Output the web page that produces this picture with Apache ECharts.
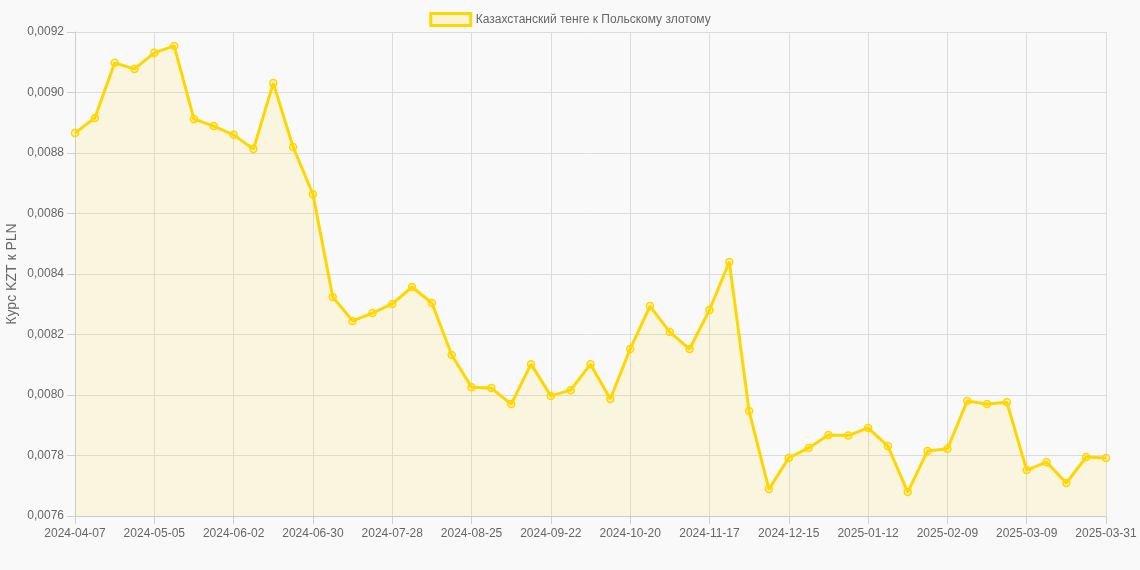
<!DOCTYPE html>
<html>
<head>
<meta charset="utf-8">
<script src="https://cdn.jsdelivr.net/npm/echarts@6/dist/echarts.min.js"></script>
<style>
html,body{margin:0;padding:0;background:#f9f9f9;}
#c{width:1140px;height:570px;}
</style>
</head>
<body>
<div id="c"></div>
<script>
const categories = [
"2024-04-07","2024-04-14","2024-04-21","2024-04-28","2024-05-05","2024-05-12","2024-05-19","2024-05-26",
"2024-06-02","2024-06-09","2024-06-16","2024-06-23","2024-06-30","2024-07-07","2024-07-14","2024-07-21",
"2024-07-28","2024-08-04","2024-08-11","2024-08-18","2024-08-25","2024-09-01","2024-09-08","2024-09-15",
"2024-09-22","2024-09-29","2024-10-06","2024-10-13","2024-10-20","2024-10-27","2024-11-03","2024-11-10",
"2024-11-17","2024-11-24","2024-12-01","2024-12-08","2024-12-15","2024-12-22","2024-12-29","2025-01-05",
"2025-01-12","2025-01-19","2025-01-26","2025-02-02","2025-02-09","2025-02-16","2025-02-23","2025-03-02",
"2025-03-09","2025-03-16","2025-03-23","2025-03-30","2025-03-31"
];
const rateKZTtoPLN = [
0.008866,0.008916,0.009098,0.009078,0.009131,0.009154,0.008912,0.008889,
0.008860,0.008813,0.009031,0.008820,0.008664,0.008324,0.008245,0.008271,
0.008301,0.008357,0.008304,0.008132,0.008026,0.008023,0.007970,0.008102,
0.007997,0.008016,0.008102,0.007987,0.008152,0.008294,0.008208,0.008152,
0.008281,0.008440,0.007947,0.007689,0.007792,0.007825,0.007868,0.007866,
0.007891,0.007831,0.007679,0.007815,0.007822,0.007980,0.007970,0.007976,
0.007752,0.007778,0.007709,0.007795,0.007792
];
const seriesName = "Казахстанский тенге к Польскому злотому";
const yAxisName = "Курс KZT к PLN";

const chart = echarts.init(document.getElementById('c'), null, {renderer:'canvas'});
const font = '"Liberation Sans", Arial, sans-serif';
chart.setOption({
  backgroundColor: '#f9f9f9',
  animation: false,
  textStyle: {fontFamily: font},
  legend: {
    top: 7, left: 'center',
    itemWidth: 40, itemHeight: 12, itemGap: 6,
    textStyle: {color: '#666', fontSize: 12, fontFamily: font},
    data: [{name: seriesName, icon: 'rect', itemStyle: {color: 'rgba(255,215,0,0.15)', borderColor: '#FFD700', borderWidth: 3}}]
  },
  grid: {left: 75, right: 34, top: 32, bottom: 54, containLabel: false, outerBoundsMode: 'none'},
  xAxis: {
    type: 'category', data: categories, boundaryGap: false,
    axisLine: {show: true, lineStyle: {color: '#cccccc'}},
    axisTick: {show: true, interval: 3, length: 8, lineStyle: {color: '#d0d0d0'}},
    axisLabel: {interval: 3, color: '#666', fontSize: 12, margin: 12, fontFamily: font},
    splitLine: {show: true, interval: 3, lineStyle: {color: '#dcdcdc'}}
  },
  yAxis: {
    type: 'value', min: 0.0076, max: 0.0092, interval: 0.0002,
    name: yAxisName, nameLocation: 'middle', nameGap: 56, nameRotate: 90, nameMoveOverlap: false,
    nameTextStyle: {color: '#666', fontSize: 14, fontFamily: font},
    axisLine: {show: true, lineStyle: {color: '#cccccc'}},
    axisTick: {show: true, length: 8, lineStyle: {color: '#d0d0d0'}},
    axisLabel: {color: '#666', fontSize: 12, margin: 11, fontFamily: font,
      formatter: v => v.toFixed(4).replace('.', ',')},
    splitLine: {show: true, lineStyle: {color: '#dcdcdc'}}
  },
  series: [{
    name: seriesName, type: 'line', data: rateKZTtoPLN,
    symbol: 'circle', symbolSize: 7, showSymbol: true,
    lineStyle: {color: '#FFD700', width: 3},
    itemStyle: {color: 'rgba(255,215,0,0.2)', borderColor: '#FFD700', borderWidth: 1.5},
    areaStyle: {color: 'rgba(255,215,0,0.15)'}
  }]
});
</script>
</body>
</html>
